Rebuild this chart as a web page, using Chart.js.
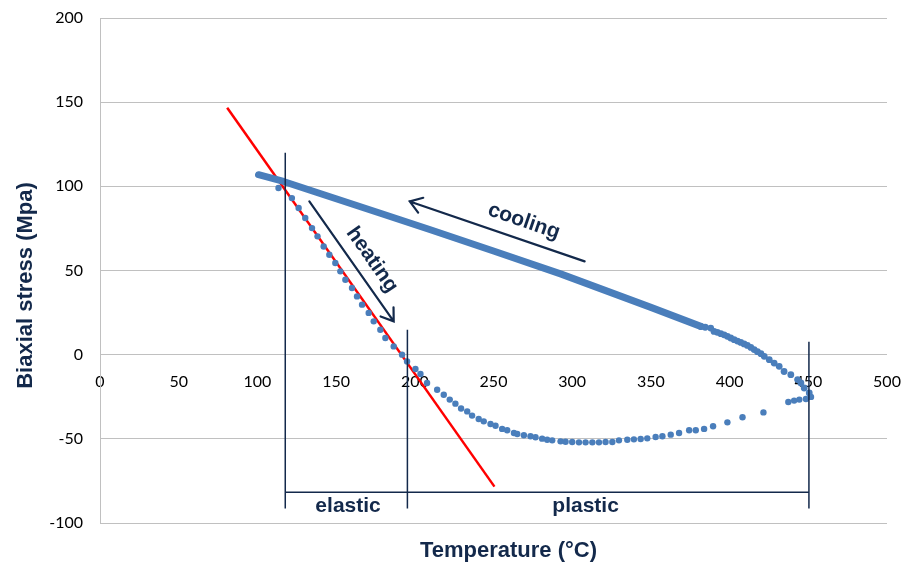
<!DOCTYPE html>
<html>
<head>
<meta charset="utf-8">
<script src="https://cdn.jsdelivr.net/npm/chart.js@4.4.1/dist/chart.umd.min.js"></script>
<style>
    html, body { margin: 0; padding: 0; background: #ffffff; }
    #wrap { width: 904px; height: 565px; }
</style>
</head>
<body>
<div id="wrap"><canvas id="stress-chart" width="904" height="565"></canvas></div>
<script>
const xTicks = [0, 50, 100, 150, 200, 250, 300, 350, 400, 450, 500];
const yTicks = [-100, -50, 0, 50, 100, 150, 200];

// heating run (temperature °C / stress MPa)
const heatingTemp = [113.4, 121.9, 126.2, 130.4, 134.7, 138.2, 142.1, 145.7, 149.5, 152.7,
    155.9, 160.1, 163.3, 166.5, 170.7, 173.9, 178.1, 181.3, 186.6, 191.9,
    195.1, 200.4, 203.6, 207.8, 214.2, 218.4, 222.2, 225.8, 229.4, 233.3,
    236.4, 240.6, 243.8, 248.1, 251.3, 255.5, 258.7, 263.0, 265.1, 269.3,
    273.5, 276.7, 280.9, 284.1, 287.3, 292.6, 295.8, 300.0, 304.3, 308.5,
    312.8, 317.0, 321.2, 325.5, 329.7, 335.0, 339.2, 343.5, 347.7, 353.0,
    357.3, 362.6, 367.9, 374.3, 378.5, 383.8, 389.5, 398.6, 408.2, 421.5,
    437.3, 441.0, 444.3, 448.5, 451.7];
const heatingStress = [99.0, 93.0, 87.1, 81.2, 75.2, 70.3, 64.3, 59.4, 54.5, 49.5,
    44.5, 39.6, 34.6, 29.7, 24.8, 19.8, 14.8, 9.9, 4.9, 0.0,
    -4.0, -8.5, -11.5, -16.8, -20.8, -23.8, -26.7, -29.1, -32.0, -33.7,
    -36.2, -38.2, -39.6, -41.2, -42.2, -44.1, -44.9, -46.5, -47.1, -47.9,
    -48.5, -49.1, -49.9, -50.5, -50.9, -51.5, -51.7, -51.9, -52.1, -52.1,
    -52.1, -52.1, -51.9, -51.9, -50.9, -50.5, -50.3, -50.1, -49.7, -48.9,
    -48.5, -47.5, -46.5, -44.9, -44.9, -44.1, -42.5, -40.2, -37.2, -34.3,
    -28.1, -27.3, -26.7, -26.3, -25.1];

// cooling run, dense part (points merge into a band)
const coolingTemp = [100.7, 116.6, 150.0, 178.1, 209.9, 250.0, 292.6, 350.0, 381.7];
const coolingStress = [106.9, 102.9, 92.6, 84.0, 74.2, 61.6, 48.0, 28.1, 16.8];

// cooling run start, near 450 °C, single points still visible
const coolingEndTemp = [381.7, 384.5, 388.0, 390.1, 392.2, 394.4, 396.5, 398.6, 400.7, 402.9,
    405.0, 407.1, 409.2, 411.3, 413.5, 415.6, 417.7, 419.9, 422.0, 425.2,
    428.3, 431.5, 434.6, 438.9, 443.2, 445.3, 447.4, 450.6];
const coolingEndStress = [16.8, 16.3, 15.8, 13.8, 13.3, 12.5, 11.8, 10.9, 9.9, 8.9,
    8.1, 7.3, 6.4, 5.5, 4.3, 3.0, 1.8, 0.6, -1.0, -3.0,
    -5.0, -6.9, -10.0, -11.9, -14.8, -16.8, -19.8, -22.7];

// linear thermo-elastic fit
const fitTemp = [80.8, 250.6];
const fitStress = [146.7, -78.4];

// elastic / plastic region markers
const regionTemp = [117.7, 195.3, 450.4];
const regionTop = [120, 14.8, 7.7];
const regionBottom = -91.4;
const regionBar = -81.8;

const navy = '#13294b';
const blue = '#4a7ebb';

function pts(xs, ys) {
    return xs.map((v, i) => ({ x: v, y: Array.isArray(ys) ? ys[i] : ys }));
}

const regionSets = regionTemp.map((t, i) => ({
    type: 'line',
    data: pts([t, t], [regionTop[i], regionBottom]),
    borderColor: navy,
    borderWidth: 1.5,
    pointRadius: 0,
}));
regionSets.push({
    type: 'line',
    data: pts([regionTemp[0], regionTemp[2]], regionBar),
    borderColor: navy,
    borderWidth: 1.5,
    pointRadius: 0,
});

// arrows and labels, in data units
const arrows = [
    { from: [307.9, 55.4], to: [196.8, 91.0] },
    { from: [133.0, 91.0], to: [186.6, 19.8] },
];
const notes = [
    { text: 'cooling', at: [269.3, 79.2], angle: 19 },
    { text: 'heating', at: [172.8, 56.4], angle: 55 },
    { text: 'elastic', at: [157.6, -90.1], angle: 0 },
    { text: 'plastic', at: [308.5, -90.1], angle: 0 },
];

const annotations = {
    id: 'annotations',
    afterDatasetsDraw(chart) {
        const { ctx, chartArea } = chart;
        const sx = chart.scales.x;
        const sy = chart.scales.y;
        ctx.save();
        ctx.strokeStyle = navy;
        ctx.fillStyle = navy;
        ctx.lineWidth = 2.2;
        ctx.lineCap = 'round';

        arrows.forEach((a) => {
            const x1 = sx.getPixelForValue(a.from[0]);
            const y1 = sy.getPixelForValue(a.from[1]);
            const x2 = sx.getPixelForValue(a.to[0]);
            const y2 = sy.getPixelForValue(a.to[1]);
            const ang = Math.atan2(y2 - y1, x2 - x1);
            const head = 14;
            ctx.beginPath();
            ctx.moveTo(x1, y1);
            ctx.lineTo(x2, y2);
            ctx.moveTo(x2 - head * Math.cos(ang - 0.6), y2 - head * Math.sin(ang - 0.6));
            ctx.lineTo(x2, y2);
            ctx.lineTo(x2 - head * Math.cos(ang + 0.6), y2 - head * Math.sin(ang + 0.6));
            ctx.stroke();
        });

        ctx.font = 'bold 21px "Liberation Sans", Arial, sans-serif';
        ctx.textAlign = 'center';
        ctx.textBaseline = 'middle';
        notes.forEach((n) => {
            ctx.save();
            ctx.translate(sx.getPixelForValue(n.at[0]), sy.getPixelForValue(n.at[1]));
            ctx.rotate((n.angle * Math.PI) / 180);
            ctx.fillText(n.text, 0, 0);
            ctx.restore();
        });

        // axis titles (Excel puts them a bit off centre)
        ctx.font = 'bold 22px "Liberation Sans", Arial, sans-serif';
        ctx.fillText('Temperature (°C)', chartArea.left + chartArea.width / 2 + 15, chartArea.bottom + 28);
        ctx.save();
        ctx.translate(26, chartArea.top + chartArea.height / 2 + 15);
        ctx.rotate(-Math.PI / 2);
        ctx.fillText('Biaxial stress (Mpa)', 0, 0);
        ctx.restore();

        ctx.restore();
    },
};

const tickFont = { family: 'Lato', size: 16 };

// keep label overhang from pushing the plot area in
function noPadding(s) {
    s.paddingTop = 0;
    s.paddingBottom = 0;
    s.paddingLeft = 0;
    s.paddingRight = 0;
}

new Chart(document.getElementById('stress-chart').getContext('2d'), {
    type: 'scatter',
    data: {
        datasets: [
            ...regionSets,
            {
                data: pts(heatingTemp, heatingStress),
                backgroundColor: blue,
                borderWidth: 0,
                pointRadius: 3.2,
            },
            {
                data: pts(coolingEndTemp, coolingEndStress),
                backgroundColor: blue,
                borderWidth: 0,
                pointRadius: 3.4,
            },
            {
                type: 'line',
                data: pts(coolingTemp, coolingStress),
                borderColor: blue,
                borderWidth: 7,
                borderCapStyle: 'round',
                borderJoinStyle: 'round',
                pointRadius: 0,
            },
            {
                type: 'line',
                data: pts(fitTemp, fitStress),
                borderColor: '#ff0000',
                borderWidth: 2.5,
                pointRadius: 0,
            },
        ],
    },
    options: {
        responsive: false,
        animation: false,
        events: [],
        layout: { padding: { top: 18, right: 17, bottom: 42, left: 0 } },
        scales: {
            x: {
                type: 'linear',
                position: { y: 0 },
                min: 0,
                max: 500,
                afterBuildTicks: (s) => { s.ticks = xTicks.map((v) => ({ value: v })); },
                afterFit: noPadding,
                grid: { display: false, drawTicks: false },
                border: { display: false },
                ticks: { padding: 18, color: '#000', font: tickFont, maxRotation: 0, autoSkip: false },
            },
            y: {
                type: 'linear',
                min: -100,
                max: 200,
                afterBuildTicks: (s) => { s.ticks = yTicks.map((v) => ({ value: v })); },
                afterFit: (s) => { noPadding(s); s.width = 100; },
                grid: { color: '#c0c0c0', lineWidth: 1, drawTicks: false },
                border: { display: true, color: '#c0c0c0' },
                ticks: { padding: 17, color: '#000', font: tickFont },
            },
        },
        plugins: {
            legend: { display: false },
            tooltip: { enabled: false },
        },
    },
    plugins: [annotations],
});
</script>
</body>
</html>
